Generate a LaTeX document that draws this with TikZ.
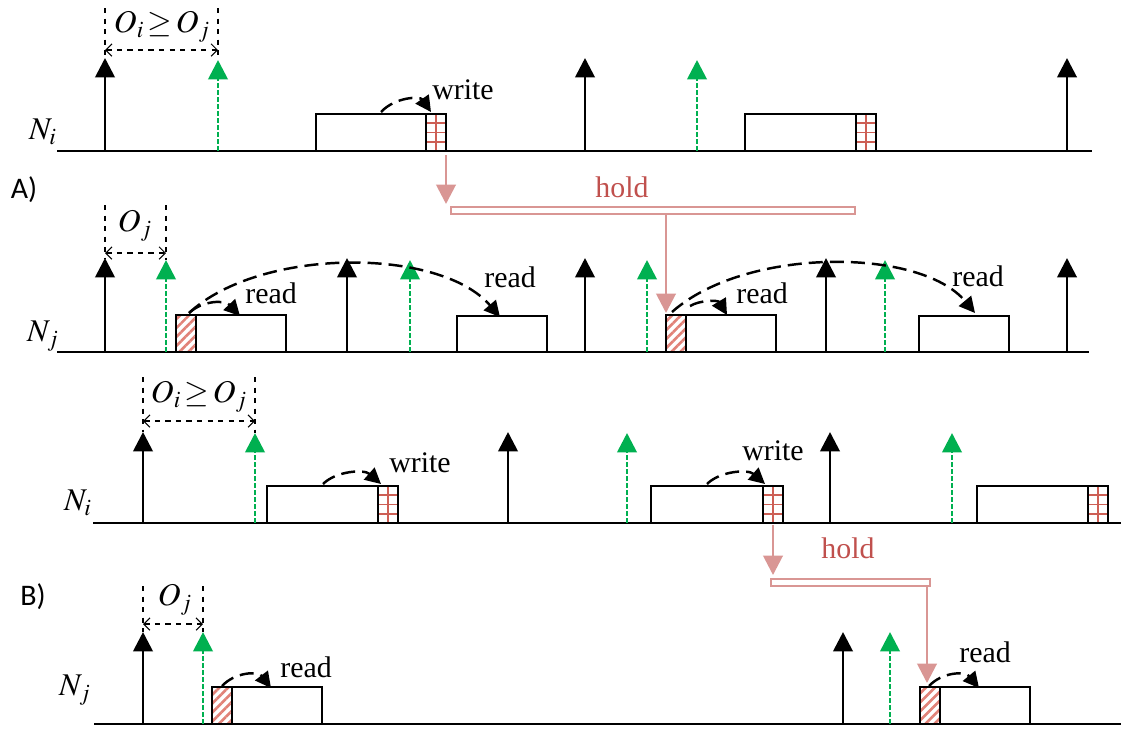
\documentclass[tikz,border=0pt]{standalone}
\usepackage{mathptmx}
\usepackage{fontspec}
\setmainfont{Liberation Serif}
\newfontfamily\capfont{Carlito}
\usetikzlibrary{arrows.meta,patterns.meta}

\definecolor{tickgreen}{RGB}{0,176,80}
\definecolor{holdred}{RGB}{192,80,77}
\definecolor{holdpink}{RGB}{217,150,148}
\definecolor{cellred}{RGB}{205,95,85}
\definecolor{hatchred}{RGB}{225,130,120}

\tikzset{
	timeline/.style={line width=1.1pt},
	periodarrow/.style={line width=1.6pt, -{Triangle[width=11pt,length=11pt]}},
	offsetarrow/.style={periodarrow, tickgreen, dash pattern=on 2.6pt off 1.4pt},
	guide/.style={dashed, line width=.6pt},
	span/.style={guide, {Straight Barb[length=3.5pt,width=7pt]}-{Straight Barb[length=3.5pt,width=7pt]}},
	slot/.style={draw, line width=.9pt},
	access/.style={line width=1.4pt, dash pattern=on 8pt off 4pt, -{Triangle[width=9pt,length=9pt]}},
	hold/.style={holdpink, line width=1.6pt},
	holdarrow/.style={hold, -{Triangle[width=11pt,length=11pt]}},
	txt/.style={font=\fontsize{17}{20}\selectfont, inner sep=1pt},
	mathtxt/.style={font=\fontsize{18}{21}\selectfont, inner sep=1pt},
	partlabel/.style={font=\capfont\fontsize{17}{20}\selectfont}
}

% slot ending in a written cell: left, right, base line
\newcommand{\wrbox}[3]{%
	\draw[slot] (#1,#3) rectangle (#2,#3-37);
	\foreach \h in {9.25,18.5,27.75} \draw[cellred, line width=1pt] (#2-20,#3-\h) -- (#2,#3-\h);
	\draw[cellred, line width=1pt] (#2-10,#3) -- (#2-10,#3-37);
	\draw[slot] (#2-20,#3) rectangle (#2,#3-37);
}
% slot starting with a read cell: left, right, base line
\newcommand{\rdbox}[3]{%
	\draw[slot] (#1,#3) rectangle (#2,#3-37);
	\draw[slot, pattern={Lines[angle=45,distance=3.6pt,line width=1.5pt]}, pattern color=hatchred] (#1,#3) rectangle (#1+20,#3-37);
}

\begin{document}
\begin{tikzpicture}[x = .02cm, y = -.02cm]
	\useasboundingbox (0,0) rectangle (1121,728);

	% A) node i
	\draw[timeline] (57,151) -- (1092,151); %time axis
	\foreach \t in {105,585,1067} \draw[periodarrow] (\t,151) -- (\t,58);
	\foreach \t in {218,697} \draw[offsetarrow] (\t,151) -- (\t,60);
	\draw[guide] (105,8) -- (105,58) (218,8) -- (218,60);
	\draw[span] (105,50) -- (218,50);
	\node[mathtxt] (offA) at (162,27) {$O_i\,{\geq}\,O_j$};
	\node[mathtxt] (niA) at (43,132) {$N_i$};
	\wrbox{316}{446}{151}
	\wrbox{745}{876}{151}
	\draw[access] (381,112) .. controls (395,97) and (420,96) .. (431,112);
	\node[txt] (writeA) at (463,90) {write};

	\node[partlabel] (partA) at (24,190) {A)};

	% A) hold until the next read of node j
	\coordinate (relA) at (446,155);
	\coordinate (barAin) at (446,204);
	\coordinate (barAout) at (666,214);
	\coordinate (getA) at (666,313);
	\draw[holdarrow] (relA) -- (barAin);
	\draw[hold, line width=1.2pt] (451,207) rectangle (855,214);
	\draw[holdarrow] (barAout) -- (getA);
	\node[txt, holdred] (holdA) at (622,187) {hold};

	% A) node j
	\draw[timeline] (57,352) -- (1089,352); %time axis
	\foreach \t in {105,347,585,826,1067} \draw[periodarrow] (\t,352) -- (\t,258);
	\foreach \t in {166,410,647,885} \draw[offsetarrow] (\t,352) -- (\t,260);
	\draw[guide] (105,205) -- (105,258) (166,205) -- (166,260);
	\draw[span] (105,253) -- (166,253);
	\node[mathtxt] (ojA) at (135,226) {$O_j$};
	\node[mathtxt] (njA) at (43,336) {$N_j$};
	\rdbox{176}{286}{352}
	\draw[slot] (457,352) rectangle (547,316);
	\rdbox{666}{776}{352}
	\draw[slot] (919,352) rectangle (1009,316);
	\draw[access] (189,313) .. controls (203,300) and (225,300) .. (240,316);
	\draw[access] (189,313) .. controls (260,247) and (440,247) .. (500,317);
	\draw[access] (690,306) .. controls (700,300) and (718,300) .. (727,315);
	\draw[access] (672,312) .. controls (745,247) and (920,247) .. (975,313);
	\node[txt] (readA1) at (271,293) {read};
	\node[txt] (readA2) at (510,277) {read};
	\node[txt] (readA3) at (762,293) {read};
	\node[txt] (readA4) at (978,276) {read};

	% B) node i
	\draw[timeline] (93,523) -- (1121,523); %time axis
	\foreach \t in {143,508,830} \draw[periodarrow] (\t,523) -- (\t,432);
	\foreach \t in {255,627,952} \draw[offsetarrow] (\t,523) -- (\t,433);
	\draw[guide] (143,377) -- (143,432) (255,377) -- (255,433);
	\draw[span] (143,421) -- (255,421);
	\node[mathtxt] (offB) at (199,397) {$O_i\,{\geq}\,O_j$};
	\node[mathtxt] (niB) at (78,503) {$N_i$};
	\wrbox{267}{398}{523}
	\wrbox{651}{783}{523}
	\wrbox{977}{1108}{523}
	\draw[access] (323,484) .. controls (336,471) and (364,469) .. (381,484);
	\draw[access] (707,484) .. controls (720,471) and (748,469) .. (765,484);
	\node[txt] (writeB1) at (420,463) {write};
	\node[txt] (writeB2) at (773,451) {write};

	\node[partlabel] (partB) at (33,597) {B)};

	% B) hold until the next read of node j
	\coordinate (relB) at (773,525);
	\coordinate (barBin) at (773,575);
	\coordinate (barBout) at (927,586);
	\coordinate (getB) at (927,683);
	\draw[holdarrow] (relB) -- (barBin);
	\draw[hold, line width=1.2pt] (771,579) rectangle (930,586);
	\draw[holdarrow] (barBout) -- (getB);
	\node[txt, holdred] (holdB) at (848,548) {hold};

	% B) node j
	\draw[timeline] (94,724) -- (1121,724); %time axis
	\foreach \t in {143,843} \draw[periodarrow] (\t,724) -- (\t,632);
	\foreach \t in {203,890} \draw[offsetarrow] (\t,724) -- (\t,632);
	\draw[guide] (143,586) -- (143,632) (203,586) -- (203,632);
	\draw[span] (143,624) -- (203,624);
	\node[mathtxt] (ojB) at (175,600) {$O_j$};
	\node[mathtxt] (njB) at (75,690) {$N_j$};
	\rdbox{212}{322}{724}
	\rdbox{920}{1030}{724}
	\draw[access] (222,686) .. controls (235,672) and (258,671) .. (271,688);
	\draw[access] (929,686) .. controls (942,672) and (965,671) .. (979,688);
	\node[txt] (readB1) at (306,667) {read};
	\node[txt] (readB2) at (985,652) {read};
\end{tikzpicture}
\end{document}
